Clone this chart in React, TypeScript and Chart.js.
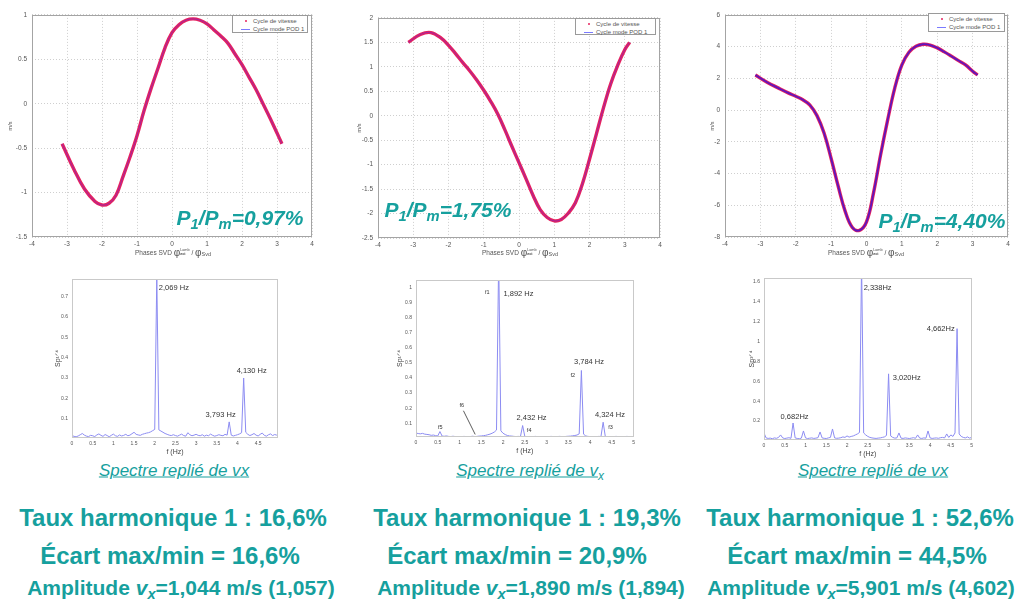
import React, { useEffect, useRef } from 'react';
import { Chart, registerables } from 'chart.js';

Chart.register(...registerables);

const FONT = "'Liberation Sans', Arial, Helvetica, sans-serif";
const TEAL = '#16a09e';

// ---------- Top row: velocity cycles vs SVD phase ----------
const phase = [-3.14, -2.8, -2.5, -2.2, -2.0, -1.8, -1.6, -1.4, -1.2, -1.0, -0.8, -0.6, -0.4, -0.2, 0, 0.2, 0.4, 0.6, 0.8, 1.0, 1.2, 1.4, 1.6, 1.8, 2.0, 2.2, 2.4, 2.6, 2.8, 3.0, 3.14];
const cycleA = [-0.45, -0.74, -0.96, -1.10, -1.14, -1.12, -1.03, -0.82, -0.60, -0.36, -0.08, 0.17, 0.40, 0.63, 0.80, 0.89, 0.94, 0.955, 0.94, 0.90, 0.83, 0.76, 0.68, 0.56, 0.44, 0.30, 0.16, 0.00, -0.16, -0.33, -0.45];
const cycleB = [1.50, 1.66, 1.70, 1.58, 1.44, 1.27, 1.09, 0.92, 0.73, 0.52, 0.29, 0.03, -0.29, -0.63, -0.96, -1.29, -1.63, -1.92, -2.08, -2.15, -2.12, -1.99, -1.78, -1.39, -0.89, -0.36, 0.17, 0.65, 1.03, 1.35, 1.50];
const cycleC = [2.21, 1.74, 1.40, 1.07, 0.87, 0.65, 0.32, -0.35, -1.45, -3.05, -4.80, -6.40, -7.40, -7.58, -7.05, -5.20, -2.80, -0.60, 1.40, 2.85, 3.65, 4.02, 4.15, 4.10, 3.92, 3.67, 3.40, 3.12, 2.85, 2.45, 2.21];

const phaseTicks = [-4, -3, -2, -1, 0, 1, 2, 3, 4];
const yTicksA = [-1.5, -1, -0.5, 0, 0.5, 1];
const yTicksB = [-2.5, -2, -1.5, -1, -0.5, 0, 0.5, 1, 1.5, 2];
const yTicksC = [-8, -6, -4, -2, 0, 2, 4, 6];

const ratios = ['0,97%', '1,75%', '4,40%'];

// ---------- Bottom row: folded spectra (f = 0 .. 5 Hz, step 0.05 Hz) ----------
const specA = [
  0.018, 0.014, 0.012, 0.016, 0.022, 0.028, 0.02, 0.015, 0.013, 0.019,
  0.017, 0.013, 0.021, 0.026, 0.019, 0.014, 0.023, 0.018, 0.012, 0.019,
  0.025, 0.017, 0.014, 0.021, 0.016, 0.019, 0.024, 0.017, 0.02, 0.027,
  0.034, 0.024, 0.021, 0.019, 0.024, 0.027, 0.03, 0.032, 0.036, 0.042,
  0.048, 0.80, 0.046, 0.04, 0.034, 0.028, 0.024, 0.02, 0.018, 0.022,
  0.018, 0.015, 0.02, 0.025, 0.018, 0.015, 0.032, 0.022, 0.017, 0.02,
  0.024, 0.019, 0.017, 0.022, 0.015, 0.02, 0.017, 0.025, 0.019, 0.015,
  0.018, 0.022, 0.019, 0.017, 0.024, 0.02, 0.085, 0.02, 0.016, 0.019,
  0.022, 0.026, 0.032, 0.30, 0.034, 0.024, 0.018, 0.022, 0.028, 0.02,
  0.016, 0.024, 0.03, 0.019, 0.015, 0.022, 0.026, 0.018, 0.023, 0.02,
  0.017,
];
const specB = [
  0.035, 0.032, 0.03, 0.033, 0.028, 0.026, 0.024, 0.02, 0.022, 0.018,
  0.016, 0.045, 0.015, 0.014, 0.016, 0.013, 0.012, 0.014, 0.012, 0.011,
  0.012, 0.011, 0.013, 0.012, 0.011, 0.012, 0.014, 0.012, 0.013, 0.015,
  0.016, 0.018, 0.02, 0.024, 0.028, 0.034, 0.042, 0.055, 1.2, 0.05,
  0.034, 0.025, 0.019, 0.016, 0.015, 0.013, 0.012, 0.013, 0.012, 0.085,
  0.013, 0.011, 0.012, 0.011, 0.012, 0.013, 0.011, 0.012, 0.011, 0.012,
  0.012, 0.011, 0.013, 0.012, 0.011, 0.012, 0.013, 0.012, 0.011, 0.013,
  0.014, 0.015, 0.017, 0.019, 0.022, 0.03, 0.45, 0.028, 0.016, 0.013,
  0.012, 0.011, 0.012, 0.011, 0.013, 0.012, 0.107, 0.012, 0.011, 0.012,
  0.011, 0.012, 0.013, 0.011, 0.012, 0.011, 0.012, 0.013, 0.011, 0.012,
  0.012,
];
const specC = [
  0.08, 0.03, 0.025, 0.028, 0.022, 0.03, 0.026, 0.035, 0.06, 0.03,
  0.024, 0.028, 0.032, 0.026, 0.18, 0.03, 0.025, 0.022, 0.028, 0.10,
  0.03, 0.024, 0.027, 0.03, 0.025, 0.028, 0.032, 0.09, 0.03, 0.026,
  0.024, 0.03, 0.035, 0.12, 0.03, 0.026, 0.028, 0.032, 0.04, 0.035,
  0.05, 0.038, 0.045, 0.05, 0.06, 0.07, 0.085, 1.8, 0.08, 0.06,
  0.045, 0.035, 0.03, 0.027, 0.025, 0.028, 0.03, 0.035, 0.04, 0.055,
  0.675, 0.05, 0.035, 0.028, 0.03, 0.08, 0.028, 0.025, 0.03, 0.027,
  0.024, 0.028, 0.032, 0.026, 0.06, 0.028, 0.025, 0.03, 0.027, 0.10,
  0.03, 0.025, 0.028, 0.03, 0.026, 0.032, 0.035, 0.03, 0.07, 0.035,
  0.06, 0.045, 0.08, 1.13, 0.07, 0.045, 0.035, 0.03, 0.04, 0.028,
  0.035,
];
const freqStep = 0.05;

const fTicksA = [0, 0.5, 1, 1.5, 2, 2.5, 3, 3.5, 4, 4.5];
const fTicks = [0, 0.5, 1, 1.5, 2, 2.5, 3, 3.5, 4, 4.5, 5];
const sTicksA = [0.1, 0.2, 0.3, 0.4, 0.5, 0.6, 0.7];
const sTicksB = [0.1, 0.2, 0.3, 0.4, 0.5, 0.6, 0.7, 0.8, 0.9, 1];
const sTicksC = [0.2, 0.4, 0.6, 0.8, 1, 1.2, 1.4, 1.6];

type Note = { text: string; f: number; a: number; small?: boolean; center?: boolean };
const notesA: Note[] = [
  { text: '2,069 Hz', f: 2.1, a: 0.74 },
  { text: '4,130 Hz', f: 3.98, a: 0.336 },
  { text: '3,793 Hz', f: 3.23, a: 0.12 },
];
const notesB: Note[] = [
  { text: 'f1', f: 1.64, a: 0.97, small: true, center: true },
  { text: '1,892 Hz', f: 2.01, a: 0.959 },
  { text: '3,784 Hz', f: 3.63, a: 0.504 },
  { text: 'f2', f: 3.6, a: 0.417, small: true, center: true },
  { text: '2,432 Hz', f: 2.31, a: 0.133 },
  { text: 'f4', f: 2.6, a: 0.052, small: true, center: true },
  { text: '4,324 Hz', f: 4.11, a: 0.154 },
  { text: 'f3', f: 4.47, a: 0.074, small: true, center: true },
  { text: 'f5', f: 0.557, a: 0.07, small: true, center: true },
  { text: 'f6', f: 1.05, a: 0.215, small: true, center: true },
];
const pointerB = [[1.09, 0.183, 1.36, 0.026]];
const notesC: Note[] = [
  { text: '2,338Hz', f: 2.4, a: 1.543 },
  { text: '4,662Hz', f: 3.92, a: 1.124 },
  { text: '3,020Hz', f: 3.1, a: 0.636 },
  { text: '0,682Hz', f: 0.4, a: 0.24 },
];

// ---------- Text below ----------
const tauxHarm = ['16,6%', '19,3%', '52,6%'];
const ecarts = ['16,6%', '20,9%', '44,5%'];
const amplitudes = ['1,044', '1,890', '5,901'];
const amplitudesRef = ['1,057', '1,894', '4,602'];

// ---------- helpers ----------
type Frame = { left: number; top: number; yW: number; xH: number; plotW: number; plotH: number; padTop: number; padRight: number };

const framePlugin = {
  id: 'frame',
  afterDatasetsDraw(chart: any, _a: any, opts: any) {
    const { ctx, chartArea: a } = chart;
    ctx.save();
    ctx.strokeStyle = opts.color || '#999';
    ctx.lineWidth = 1;
    ctx.setLineDash([]);
    ctx.strokeRect(Math.round(a.left) + 0.5, Math.round(a.top) + 0.5, Math.round(a.width) - 1, Math.round(a.height) - 1);
    ctx.restore();
  },
};

function notesPlugin(notes: Note[], pointers: number[][]) {
  return {
    id: 'notes',
    afterDatasetsDraw(chart: any) {
      const { ctx, scales } = chart;
      const x = scales.x;
      const y = scales.y;
      ctx.save();
      ctx.fillStyle = '#333';
      ctx.textBaseline = 'middle';
      for (const n of notes) {
        ctx.font = n.small ? `5.5px ${FONT}` : `7.5px ${FONT}`;
        ctx.textAlign = n.center ? 'center' : 'left';
        ctx.fillText(n.text, x.getPixelForValue(n.f), y.getPixelForValue(n.a));
      }
      ctx.strokeStyle = '#333';
      ctx.lineWidth = 0.8;
      for (const p of pointers) {
        ctx.beginPath();
        ctx.moveTo(x.getPixelForValue(p[0]), y.getPixelForValue(p[1]));
        ctx.lineTo(x.getPixelForValue(p[2]), y.getPixelForValue(p[3]));
        ctx.stroke();
      }
      ctx.restore();
    },
  };
}

const fmt = (v: any) => `${+Number(v).toFixed(2)}`;

function cycleConfig(values: number[], yTicks: number[], f: Frame, blue: string, blueWidth: number) {
  const pts = phase.map((x, i) => ({ x, y: values[i] }));
  const tickFont = { family: FONT, size: 6.5 };
  return {
    type: 'line',
    data: {
      datasets: [
        { label: 'Cycle mode POD 1', data: pts, borderColor: blue, borderWidth: blueWidth, pointRadius: 0, tension: 0.4, order: 0 },
        { label: 'Cycle de vitesse', data: pts, borderColor: '#e6225e', borderWidth: 3.4, pointRadius: 0, tension: 0.4, order: 1 },
      ],
    },
    options: {
      animation: false,
      responsive: false,
      events: [],
      layout: { padding: { top: f.padTop, right: f.padRight, left: 0, bottom: 0 }, autoPadding: false },
      plugins: { legend: { display: false }, tooltip: { enabled: false }, frame: { color: '#a4a4a4' } },
      scales: {
        x: {
          type: 'linear', min: -4, max: 4,
          afterBuildTicks: (s: any) => { s.ticks = phaseTicks.map((value) => ({ value })); },
          ticks: { font: tickFont, color: '#555', padding: 3, maxRotation: 0, autoSkip: false, callback: fmt },
          grid: { color: '#cfcfcf', drawTicks: false, lineWidth: 1 },
          border: { display: false, dash: [1, 2] },
          afterFit: (s: any) => { s.height = f.xH; },
        },
        y: {
          type: 'linear', min: yTicks[0], max: yTicks[yTicks.length - 1],
          afterBuildTicks: (s: any) => { s.ticks = yTicks.map((value) => ({ value })); },
          ticks: { font: tickFont, color: '#555', padding: 5, autoSkip: false, callback: fmt },
          grid: { color: '#cfcfcf', drawTicks: false, lineWidth: 1 },
          border: { display: false, dash: [1, 2] },
          title: { display: true, text: 'm/s', font: { family: FONT, size: 5.5 }, color: '#555', padding: 0 },
          afterFit: (s: any) => { s.width = f.yW; },
        },
      },
    },
    plugins: [framePlugin],
  };
}

function specConfig(values: number[], xTicks: number[], xMax: number, yTicks: number[], yMin: number, yMax: number, f: Frame, notes: Note[], pointers: number[][]) {
  const pts = values.map((v, i) => ({ x: i * freqStep, y: v }));
  const tickFont = { family: FONT, size: 5 };
  return {
    type: 'line',
    data: {
      datasets: [
        { label: 'spectre', data: pts, borderColor: '#8c8cf2', borderWidth: 1, pointRadius: 0, tension: 0 },
      ],
    },
    options: {
      animation: false,
      responsive: false,
      events: [],
      layout: { padding: { top: f.padTop, right: f.padRight, left: 0, bottom: 0 }, autoPadding: false },
      plugins: { legend: { display: false }, tooltip: { enabled: false }, frame: { color: '#c9c9c9' } },
      scales: {
        x: {
          type: 'linear', min: 0, max: xMax,
          afterBuildTicks: (s: any) => { s.ticks = xTicks.map((value) => ({ value })); },
          ticks: { font: tickFont, color: '#555', padding: 3, maxRotation: 0, autoSkip: false, callback: fmt },
          grid: { display: false, drawTicks: false },
          border: { display: false },
          title: { display: true, text: 'f (Hz)', font: { family: FONT, size: 7 }, color: '#444', padding: { top: 1, bottom: 2 } },
          afterFit: (s: any) => { s.height = f.xH; },
        },
        y: {
          type: 'linear', min: yMin, max: yMax,
          afterBuildTicks: (s: any) => { s.ticks = yTicks.map((value) => ({ value })); },
          ticks: { font: tickFont, color: '#555', padding: 4, autoSkip: false, callback: fmt },
          grid: { display: false, drawTicks: false },
          border: { display: false },
          title: { display: true, text: 'Sp¹ᐟ⁴', font: { family: FONT, size: 7 }, color: '#444', padding: 0 },
          afterFit: (s: any) => { s.width = f.yW; },
        },
      },
    },
    plugins: [framePlugin, notesPlugin(notes, pointers)],
  };
}

function ChartCanvas({ frame, make }: { frame: Frame; make: (f: Frame) => any }) {
  const ref = useRef<HTMLCanvasElement>(null);
  const w = frame.yW + frame.plotW + frame.padRight;
  const h = frame.padTop + frame.plotH + frame.xH;
  useEffect(() => {
    const c = new Chart(ref.current as HTMLCanvasElement, make(frame));
    return () => c.destroy();
  }, []);
  return <canvas ref={ref} width={w} height={h} style={{ position: 'absolute', left: frame.left, top: frame.top, width: w, height: h }} />;
}

const abs = (cx: number, cy: number): React.CSSProperties => ({
  position: 'absolute', left: cx, top: cy, transform: 'translate(-50%,-50%)', whiteSpace: 'nowrap', lineHeight: 1,
});

function PhaseTitle({ cx }: { cx: number }) {
  return (
    <div style={{ ...abs(cx, 253), fontFamily: FONT, fontSize: 6.5, color: '#555', display: 'flex', alignItems: 'center' }}>
      <span>Phases SVD&nbsp;</span>
      <span style={{ fontSize: 10 }}>φ</span>
      <span style={{ display: 'inline-flex', flexDirection: 'column', fontSize: 3.8, lineHeight: 1 }}>
        <span>Lamb</span>
        <span style={{ fontWeight: 'bold' }}>ast</span>
      </span>
      <span>&nbsp;/&nbsp;</span>
      <span style={{ fontSize: 10 }}>φ</span>
      <span style={{ fontSize: 5.5, position: 'relative', top: 2 }}>Svd</span>
    </div>
  );
}

function CycleLegend({ left, top, width, height }: { left: number; top: number; width: number; height: number }) {
  const row: React.CSSProperties = { display: 'flex', alignItems: 'center', height: 8 };
  return (
    <div style={{ position: 'absolute', left, top, width, height, border: '1px solid #9a9a9a', background: '#fff', boxSizing: 'border-box', fontFamily: FONT, fontSize: 6, color: '#555', paddingTop: 1 }}>
      <div style={row}>
        <span style={{ width: 20, position: 'relative', height: 8 }}>
          <span style={{ position: 'absolute', left: 12, top: 3, width: 2, height: 2, borderRadius: 1, background: '#e6225e' }} />
        </span>
        <span>Cycle de vitesse</span>
      </div>
      <div style={row}>
        <span style={{ width: 20, position: 'relative', height: 8 }}>
          <span style={{ position: 'absolute', left: 8, top: 4, width: 9, height: 1, background: '#7a7aff' }} />
        </span>
        <span>Cycle mode POD 1</span>
      </div>
    </div>
  );
}

function Ratio({ cx, cy, value }: { cx: number; cy: number; value: string }) {
  const sub: React.CSSProperties = { fontSize: '0.7em', position: 'relative', top: '0.3em' };
  return (
    <div style={{ ...abs(cx, cy), fontFamily: FONT, fontStyle: 'italic', fontWeight: 'bold', fontSize: 21, color: TEAL }}>
      P<span style={sub}>1</span>/P<span style={sub}>m</span>={value}
    </div>
  );
}

function Caption({ cx, sub }: { cx: number; sub: boolean }) {
  return (
    <div style={{ ...abs(cx, 470), fontFamily: FONT, fontStyle: 'italic', fontSize: 17, color: TEAL, textDecoration: 'underline' }}>
      Spectre replié de v{sub ? <span style={{ fontSize: '0.7em', position: 'relative', top: '0.3em' }}>x</span> : 'x'}
    </div>
  );
}

const topFrames: Frame[] = [
  { left: 7, top: 6, yW: 25, xH: 12, plotW: 280, plotH: 225, padTop: 6, padRight: 6 },
  { left: 356, top: 9, yW: 22, xH: 12, plotW: 282, plotH: 223, padTop: 6, padRight: 6 },
  { left: 709, top: 6, yW: 16, xH: 12, plotW: 283, plotH: 225, padTop: 6, padRight: 5 },
];
const specFrames: Frame[] = [
  { left: 54, top: 272, yW: 18, xH: 20, plotW: 206, plotH: 162, padTop: 4, padRight: 4 },
  { left: 396, top: 273, yW: 20, xH: 20, plotW: 218, plotH: 160, padTop: 4, padRight: 4 },
  { left: 748, top: 271, yW: 16, xH: 20, plotW: 208, plotH: 165, padTop: 4, padRight: 4 },
];

export default function App() {
  const big: React.CSSProperties = { fontFamily: FONT, fontWeight: 'bold', color: TEAL };
  const line1X = [173, 527, 860];
  const line2X = [170, 517, 857];
  const line3X = [181, 531, 861];
  return (
    <div style={{ position: 'absolute', left: 0, top: 0, width: 1016, height: 603, overflow: 'hidden', background: '#fff' }}>
      <ChartCanvas frame={topFrames[0]} make={(f) => cycleConfig(cycleA, yTicksA, f, 'rgba(60,40,255,0.4)', 1)} />
      <ChartCanvas frame={topFrames[1]} make={(f) => cycleConfig(cycleB, yTicksB, f, 'rgba(60,40,255,0.4)', 1)} />
      <ChartCanvas frame={topFrames[2]} make={(f) => cycleConfig(cycleC, yTicksC, f, 'rgba(80,20,200,0.9)', 1.8)} />
      <CycleLegend left={232} top={15} width={76} height={18} />
      <CycleLegend left={575} top={18} width={81} height={17} />
      <CycleLegend left={928} top={13} width={77} height={19} />
      <PhaseTitle cx={173} />
      <PhaseTitle cx={520} />
      <PhaseTitle cx={866} />
      <Ratio cx={240} cy={217} value={ratios[0]} />
      <Ratio cx={448} cy={209} value={ratios[1]} />
      <Ratio cx={942} cy={220} value={ratios[2]} />

      <ChartCanvas frame={specFrames[0]} make={(f) => specConfig(specA, fTicksA, 4.98, sTicksA, 0.006, 0.785, f, notesA, [])} />
      <ChartCanvas frame={specFrames[1]} make={(f) => specConfig(specB, fTicks, 5, sTicksB, 0.009, 1.05, f, notesB, pointerB)} />
      <ChartCanvas frame={specFrames[2]} make={(f) => specConfig(specC, fTicks, 5, sTicksC, 0.009, 1.64, f, notesC, [])} />
      <Caption cx={174} sub={false} />
      <Caption cx={530} sub={true} />
      <Caption cx={873} sub={false} />

      {[0, 1, 2].map((i) => (
        <React.Fragment key={i}>
          <div style={{ ...abs(line1X[i], 518), ...big, fontSize: 24 }}>Taux harmonique 1 : {tauxHarm[i]}</div>
          <div style={{ ...abs(line2X[i], 556), ...big, fontSize: 24 }}>Écart max/min = {ecarts[i]}</div>
          <div style={{ ...abs(line3X[i], 587), ...big, fontSize: 21 }}>
            Amplitude <i>v<span style={{ fontSize: '0.7em', position: 'relative', top: '0.3em' }}>x</span></i>={amplitudes[i]} m/s ({amplitudesRef[i]})
          </div>
        </React.Fragment>
      ))}
    </div>
  );
}
